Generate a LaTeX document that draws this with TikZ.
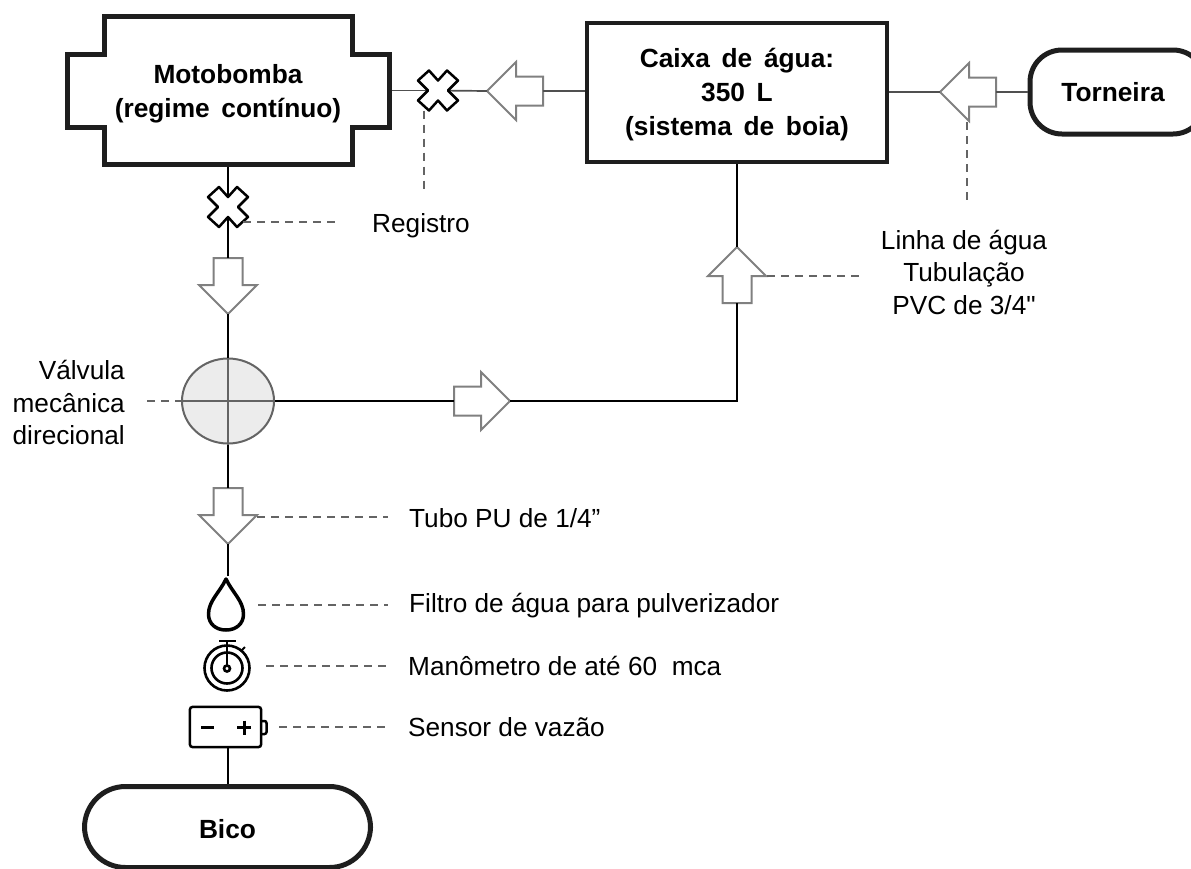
\documentclass[tikz,border=0pt]{standalone}
\usepackage{fontspec}
\setmainfont{Liberation Sans}[Ligatures=TeXOff, BoldFeatures={WordSpace=1.6}]
\usepackage{xcolor}
\usepackage{tikz}
\usetikzlibrary{shapes.geometric, shapes.arrows, shapes.misc, positioning}
\definecolor{linegray}{RGB}{128, 128, 128}
\definecolor{dashgray}{RGB}{100, 100, 100}
\definecolor{pipegray}{RGB}{80, 80, 80}
\definecolor{valvefill}{RGB}{236, 236, 236}
\definecolor{boxblack}{RGB}{30, 30, 30}
\tikzset{
  blockbox/.style={rectangle, align=center, font=\fontsize{26.3}{34}\selectfont\bfseries, inner sep=0pt},
  flowarrow/.style={single arrow, anchor=tail, draw=linegray, fill=white, line width=2pt, minimum height=56pt, outer sep=0pt,
    inner xsep=0pt, inner ysep=13.5pt, single arrow head extend=14.5pt, single arrow head indent=0pt},
  pipe/.style={black, line width=2pt},
  thinpipe/.style={pipegray, line width=1.7pt},
  leader/.style={dashgray, line width=2pt, dash pattern=on 8pt off 6pt},
  caption/.style={font=\fontsize{26.2}{32.5}\selectfont, inner sep=0pt},
  spot/.style={rectangle, inner sep=0pt, minimum size=40pt},
  registro/.pic={
    \draw[black, fill=white, line width=2.5pt, line join=round]
      (0,-10) -- (9,-20) -- (20,-10) -- (10,0) -- (20,10) -- (9,20) -- (0,10)
      -- (-9,20) -- (-20,10) -- (-10,0) -- (-20,-10) -- (-9,-20) -- cycle;
  }
}

\begin{document}
\begin{tikzpicture}[x=1pt, y=-1pt]
\useasboundingbox (0,0) rectangle (1191,868);

% Main blocks
\node[blockbox, minimum width=327pt, minimum height=153pt] (motobomba) at (228, 90.5) {\rule{0pt}{26pt}Motobomba\\(regime contínuo)};
\node[blockbox, draw=boxblack, line width=4.5pt, minimum width=300pt, minimum height=139pt] (caixa) at (737, 92.5) {\rule{0pt}{24pt}Caixa de água:\\350 L\\(sistema de boia)};
\node[blockbox, draw=boxblack, line width=5pt, rounded corners=32pt, minimum width=175pt, minimum height=84pt] (torneira) at (1117.5, 92) {Torneira\hspace{9pt}};
\node[blockbox, draw=boxblack, line width=5pt, rounded corners=41pt, minimum width=286pt, minimum height=81pt] (bico) at (227.5, 827) {\rule{0pt}{23pt}Bico};

% Motor outline
\draw[boxblack, line width=5pt] (104.5,16.5) -- (352.5,16.5) -- (352.5,54) -- (389.5,54) -- (389.5,127.5)
  -- (352.5,127.5) -- (352.5,164.5) -- (104.5,164.5) -- (104.5,127.5) -- (67.5,127.5) -- (67.5,54) -- (104.5,54) -- cycle;

% Valves and arrows
\node[spot] (registroA) at (438, 90.5) {};
\node[spot] (registroB) at (228, 207) {};
\node[flowarrow, rotate=180] (setaA) at (543, 91) {};
\node[flowarrow, rotate=180] (setaB) at (996, 92) {};
\node[flowarrow, rotate=90] (setaC) at (737, 303) {};
\node[flowarrow] (setaD) at (454, 401) {};
\node[flowarrow, rotate=-90] (setaE) at (228, 258) {};
\node[flowarrow, rotate=-90] (setaF) at (228, 488) {};
\node[ellipse, draw=dashgray, fill=valvefill, line width=2pt, minimum width=92pt, minimum height=85pt, inner sep=0pt] (valvula) at (228, 401) {};

% Instruments
\coordinate (filtro) at (226, 605);
\coordinate (manometro) at (227, 668);
\node[rectangle, minimum width=71pt, minimum height=40pt, inner sep=0pt] (sensor) at (225.5, 727) {};

% Pipes
\draw[thinpipe] (motobomba.east) -- (registroA.center);
\draw[thinpipe] (registroA.center) -- (setaA.tip);
\draw[thinpipe] (setaA.tail) -- (caixa.west |- setaA.tail);
\draw[thinpipe] (caixa.east |- setaB.tip) -- (setaB.tip);
\draw[thinpipe] (setaB.tail) -- (torneira.west |- setaB.tail);
\draw[pipe] (caixa.south) -- (setaC.tip);
\draw[pipe] (setaC.tail) -- (setaC.tail |- setaD.tip) -- (setaD.tip);
\draw[pipe] (valvula.east) -- (setaD.tail);
\draw[pipe] (motobomba.south) -- (registroB.center);
\draw[pipe] (registroB.center) -- (setaE.tail);
\draw[pipe] (setaE.tip) -- (valvula.north);
\draw[pipe] (valvula.south) -- (setaF.tail);
\draw[pipe] (setaF.tip) -- (228, 576);
\draw[pipe] (bico.north |- sensor.south) -- (bico.north);

% Valve cross
\draw[dashgray, line width=2pt] (valvula.north) -- (valvula.south);
\draw[dashgray, line width=2pt] (valvula.west) -- (valvula.east);

% Registers
\pic at (registroA) {registro};
\pic at (registroB) {registro};

% Filter drop
\draw[black, line width=3.5pt, line join=round] (226, 579) .. controls (232, 592) and (243.5, 601) .. (243.5, 614)
  .. controls (243.5, 624) and (236, 630) .. (226, 630)
  .. controls (216, 630) and (208.5, 624) .. (208.5, 614)
  .. controls (208.5, 601) and (220, 592) .. (226, 579) -- cycle;

% Stopwatch
\draw[black, line width=2.6pt] (manometro) circle[radius=22.5pt];
\draw[black, line width=2.6pt] (manometro) circle[radius=15.5pt];
\draw[black, line width=2.6pt] (227, 668.5) circle[radius=3pt];
\draw[black, line width=2.6pt] (227, 665.5) -- (227, 642);
\draw[black, line width=2.6pt] (219, 641) -- (236, 641);
\draw[black, line width=1.8pt] (241, 651) -- (245, 647);

% Battery
\draw[black, line width=2.5pt, rounded corners=3pt] (sensor.north west) rectangle (sensor.south east);
\draw[black, line width=2.5pt, rounded corners=2pt] (261, 721) -- (266.5, 721) -- (266.5, 734) -- (261, 734);
\draw[black, line width=3pt] (201, 727.5) -- (214, 727.5);
\draw[black, line width=3pt] (237, 727.5) -- (251, 727.5);
\draw[black, line width=3pt] (244, 720.5) -- (244, 734.5);

% Labels
\node[caption, anchor=west] (registroL) at (372, 226) {Registro};
\node[caption, align=center] (linhaL) at (964, 272) {Linha de água\\Tubulação\\PVC de 3/4"};
\node[caption, align=right, anchor=east] (valvulaL) at (125, 402.5) {Válvula\\mecânica\\direcional};
\node[caption, anchor=west] (tuboL) at (409, 518) {Tubo PU de 1/4”};
\node[caption, anchor=west] (filtroL) at (409, 606) {Filtro de água para pulverizador};
\node[caption, anchor=west] (manometroL) at (408, 666) {Manômetro de até 60\ \ mca};
\node[caption, anchor=west] (sensorL) at (408, 727) {Sensor de vazão};

% Leaders
\coordinate (fimA) at (424, 190);
\coordinate (fimB) at (337, 222);
\coordinate (iniC) at (967, 122);
\coordinate (fimC) at (967, 202);
\coordinate (fimD) at (860, 276);
\coordinate (fimE) at (147, 401);
\draw[leader] ([xshift=-14pt]registroA.south) -- (fimA);
\draw[leader] ([xshift=15pt, yshift=-15pt]registroB.center) -- (fimB);
\draw[leader] (iniC) -- (fimC);
\draw[leader] (767, 276) -- (fimD);
\draw[leader] (fimE) -- (valvula.west);
\coordinate (fimF) at (388, 517);
\coordinate (fimG) at (388, 605);
\coordinate (fimH) at (389, 666);
\coordinate (fimI) at (389, 727);
\draw[leader] (257, 517) -- (fimF);
\draw[leader] (258, 605) -- (fimG);
\draw[leader] (266, 666) -- (fimH);
\draw[leader] (279, 727) -- (fimI);

\end{tikzpicture}
\end{document}
